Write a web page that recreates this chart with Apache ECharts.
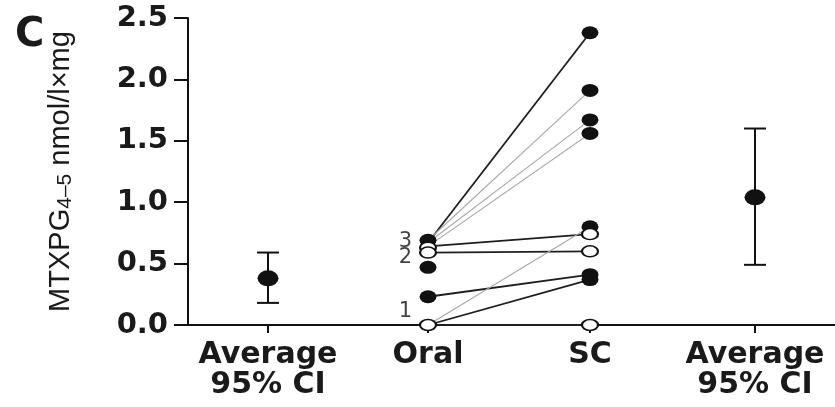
<!DOCTYPE html>
<html>
<head>
<meta charset="utf-8">
<script src="https://cdn.jsdelivr.net/npm/echarts@6/dist/echarts.min.js"></script>
<style>
html,body{margin:0;padding:0;background:#fff;}
#chart{width:835px;height:407px;}
</style>
</head>
<body>
<div id="chart"></div>
<script>
// ---------- data ----------
const categories = ['Average\n95% CI', 'Oral', 'SC', 'Average\n95% CI'];
const yTicks = [0.0, 0.5, 1.0, 1.5, 2.0, 2.5];
// paired patients: oral value -> SC value
const pairOral = [0.67, 0.69, 0.67, 0.64, 0.64, 0.59, 0.23, 0.00, 0.00, 0.00];
const pairSC   = [2.38, 1.91, 1.67, 1.56, 0.74, 0.60, 0.41, 0.37, 0.80, 0.00];
const pairGroup = ['a', 'b', 'b', 'b', 'a', 'a', 'a', 'a', 'b', 'a'];
const oralFilled = [0.69, 0.47, 0.23];
const oralOpen   = [0.63, 0.59, 0.00];
const scFilled   = [2.38, 1.91, 1.67, 1.56, 0.80, 0.41, 0.37];
const scOpen     = [0.74, 0.60, 0.00];
const oralMean = [0.38], oralLow = [0.18], oralHigh = [0.59];
const scMean = [1.04], scLow = [0.49], scHigh = [1.60];
const pointLabels = ['3', '2', '1'];
const pointLabelValues = [0.68, 0.55, 0.11];

// ---------- layout ----------
const xPos = [80, 240, 402, 567];   // positions of the four columns on the x scale
const X_MAX = 647;
const groupStyle = { a: { color: '#1e1e1e', width: 1.8 }, b: { color: '#a8a8a8', width: 1.1 } };

const series = [];
pairOral.forEach((v, i) => {
  const st = groupStyle[pairGroup[i]];
  series.push({
    type: 'line', silent: true, symbol: 'none', z: 1,
    lineStyle: { color: st.color, width: st.width },
    data: [[xPos[1], v], [xPos[2], pairSC[i]]]
  });
});
const filledStyle = { color: '#111111', opacity: 1 };
const openStyle = { color: '#ffffff', borderColor: '#111111', borderWidth: 1.8, opacity: 1 };
series.push({ type: 'scatter', z: 3, symbol: 'circle', symbolSize: [17, 13], itemStyle: filledStyle,
  data: oralFilled.map(v => [xPos[1], v]).concat(scFilled.map(v => [xPos[2], v])) });
series.push({ type: 'scatter', z: 4, symbol: 'circle', symbolSize: [16, 11], itemStyle: openStyle,
  data: oralOpen.map(v => [xPos[1], v]).concat(scOpen.map(v => [xPos[2], v])) });
// error bars
series.push({
  type: 'custom', z: 2,
  renderItem: function (params, api) {
    const x = api.value(0);
    const lo = api.coord([x, api.value(1)]);
    const hi = api.coord([x, api.value(2)]);
    const hw = 11;
    const style = { stroke: '#111111', lineWidth: 2 };
    return { type: 'group', children: [
      { type: 'line', shape: { x1: lo[0], y1: lo[1], x2: hi[0], y2: hi[1] }, style },
      { type: 'line', shape: { x1: lo[0] - hw, y1: lo[1], x2: lo[0] + hw, y2: lo[1] }, style },
      { type: 'line', shape: { x1: hi[0] - hw, y1: hi[1], x2: hi[0] + hw, y2: hi[1] }, style }
    ]};
  },
  data: [[xPos[0], oralLow[0], oralHigh[0]], [xPos[3], scLow[0], scHigh[0]]]
});
series.push({ type: 'scatter', z: 5, symbol: 'circle', symbolSize: [21, 16], itemStyle: filledStyle,
  data: [[xPos[0], oralMean[0]], [xPos[3], scMean[0]]] });
// number annotations
series.push({
  type: 'scatter', z: 6, symbolSize: 0, silent: true,
  label: { show: true, position: 'left', distance: 16, formatter: p => p.name,
    fontFamily: 'DejaVu Sans', fontSize: 21, color: '#111' },
  data: pointLabels.map((t, i) => ({ name: t, value: [xPos[1], pointLabelValues[i]] }))
});

const chart = echarts.init(document.getElementById('chart'), null, { renderer: 'canvas' });
chart.setOption({
  animation: false,
  backgroundColor: '#fff',
  grid: { left: 188, right: 0, top: 18, bottom: 82 },
  xAxis: {
    type: 'value', min: 0, max: X_MAX,
    splitLine: { show: false },
    axisLine: { show: true, onZero: false, lineStyle: { color: '#111111', width: 2 } },
    axisTick: { show: true, customValues: xPos, length: 8, lineStyle: { color: '#111111', width: 2 } },
    axisLabel: { show: true, customValues: xPos, margin: 15,
      formatter: v => categories[xPos.indexOf(v)] || '',
      fontFamily: 'DejaVu Sans', fontWeight: 'bold', fontSize: 30, lineHeight: 30, color: '#1a1a1a' }
  },
  yAxis: {
    type: 'value', min: 0, max: 2.5, interval: 0.5,
    splitLine: { show: false },
    axisLine: { show: true, lineStyle: { color: '#111111', width: 2 } },
    axisTick: { show: true, length: 14, lineStyle: { color: '#111111', width: 2 } },
    axisLabel: { margin: 20, formatter: v => v.toFixed(1),
      fontFamily: 'DejaVu Sans', fontWeight: 'bold', fontSize: 29, color: '#1a1a1a' },
    name: '{a|MTXPG}{b|4–5}{a| nmol/l×mg}',
    nameLocation: 'middle', nameRotate: 90, nameGap: 112,
    nameTextStyle: {
      rich: {
        a: { fontFamily: 'Liberation Sans', fontSize: 29, color: '#1a1a1a', lineHeight: 30 },
        b: { fontFamily: 'Liberation Sans', fontSize: 21, color: '#1a1a1a', verticalAlign: 'bottom', lineHeight: 20 }
      }
    }
  },
  graphic: [{ type: 'text', left: 15, top: 16,
    style: { text: 'C', font: 'bold 40px "DejaVu Sans"', fill: '#1a1a1a' } }],
  series: series
});
</script>
</body>
</html>
